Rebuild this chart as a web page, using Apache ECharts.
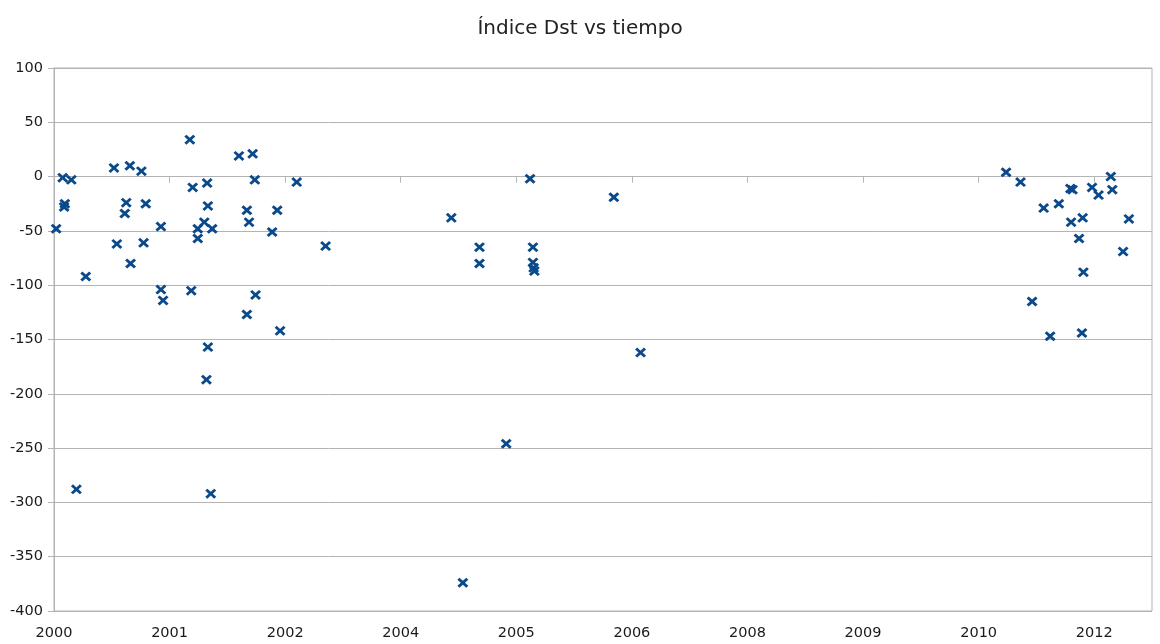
<!DOCTYPE html>
<html>
<head>
<meta charset="utf-8">
<title>Índice Dst vs tiempo</title>
<script src="https://cdn.jsdelivr.net/npm/echarts@6.0.0/dist/echarts.min.js"></script>
<style>
    html, body { margin: 0; padding: 0; background: #ffffff; }
    #chart { width: 1160px; height: 644px; }
</style>
</head>
<body>
<div id="chart"></div>
<script>
// x: months since Jan 2000, y: Dst index (nT)
const monthsSince2000 = [
    0.3, 1.2, 2.4, 1.5, 1.4, 3.1, 4.4, 8.3, 8.7, 9.8,
    10.0, 10.5, 10.6, 12.1, 12.4, 12.7, 14.8, 14.8, 15.1, 18.8,
    19.2, 19.0, 19.9, 19.9, 20.8, 21.2, 21.3, 21.9, 21.3, 21.1,
    21.7, 25.6, 27.5, 26.7, 27.0, 27.8, 27.9, 26.7, 30.2, 30.9,
    31.3, 33.6, 37.6,
    55.0, 56.6, 58.9, 58.9, 62.6, 65.9, 66.3, 66.3, 66.4, 66.5,
    77.5, 81.2,
    131.8, 133.8, 137.0, 139.1, 140.7, 141.0, 140.8, 142.4, 141.9, 142.5,
    143.7, 144.6, 146.3, 146.5, 148.8, 148.0, 135.4, 137.9, 142.3
];
const dstIndex = [
    -48, -1, -3, -25, -28, -288, -92, 8, -62, -34,
    -24, 10, -80, 5, -61, -25, -46, -104, -114, 34,
    -10, -105, -48, -57, -42, -6, -27, -48, -157, -187,
    -292, 19, 21, -31, -42, -3, -109, -127, -51, -31,
    -142, -5, -64,
    -38, -374, -65, -80, -246, -2, -65, -79, -84, -87,
    -19, -162,
    4, -5, -29, -25, -11, -12, -42, -38, -57, -88,
    -10, -17, 0, -12, -39, -69, -115, -147, -144
];

// tick positions (every 16 months) and the labels shown under them
const tickMonths = [0, 16, 32, 48, 64, 80, 96, 112, 128, 144];
const tickLabels = ['2000', '2001', '2002', '2004', '2005', '2006', '2008', '2009', '2010', '2012'];

const points = monthsSince2000.map((m, i) => [m, dstIndex[i]]);

// filled "x" shape for the markers
const crossPath = 'path://M0,1.9 L1.9,0 L5,3.1 L8.1,0 L10,1.9 L6.9,5 L10,8.1 L8.1,10 L5,6.9 L1.9,10 L0,8.1 L3.1,5 Z';

const chart = echarts.init(document.getElementById('chart'));

const textFont = 'DejaVu Sans';
const gridColor = '#b3b3b3';

chart.setOption({
    backgroundColor: '#ffffff',
    animation: false,
    title: {
        text: 'Índice Dst vs tiempo',
        left: 'center',
        top: 14,
        textStyle: {
            fontFamily: textFont,
            fontSize: 20,
            fontWeight: 'normal',
            color: '#222'
        }
    },
    grid: {
        left: 54,
        right: 8,
        top: 68,
        bottom: 33,
        show: true,
        borderColor: gridColor,
        borderWidth: 1
    },
    xAxis: {
        type: 'value',
        min: 0,
        max: 152,
        interval: 16,
        axisLine: { show: true, lineStyle: { color: gridColor } },
        axisTick: {
            show: true,
            length: 6,
            customValues: tickMonths,
            lineStyle: { color: gridColor }
        },
        splitLine: { show: false },
        axisLabel: {
            margin: 15,
            customValues: tickMonths,
            fontFamily: textFont,
            fontSize: 14.5,
            color: '#1a1a1a',
            formatter: v => {
                const i = tickMonths.indexOf(Math.round(v));
                return i >= 0 ? tickLabels[i] : '';
            }
        }
    },
    yAxis: {
        type: 'value',
        min: -400,
        max: 100,
        interval: 50,
        axisLine: { show: true, lineStyle: { color: gridColor } },
        axisTick: { show: true, length: 6, lineStyle: { color: gridColor } },
        splitLine: { show: true, lineStyle: { color: gridColor, width: 1 } },
        axisLabel: {
            margin: 11,
            fontFamily: textFont,
            fontSize: 14.5,
            color: '#1a1a1a'
        }
    },
    series: [
        {
            name: 'Dst',
            type: 'scatter',
            data: points,
            symbol: crossPath,
            symbolSize: [11, 10],
            itemStyle: { color: '#0a4a8a', opacity: 1 }
        }
    ]
});

window.addEventListener('resize', () => chart.resize());
</script>
</body>
</html>
